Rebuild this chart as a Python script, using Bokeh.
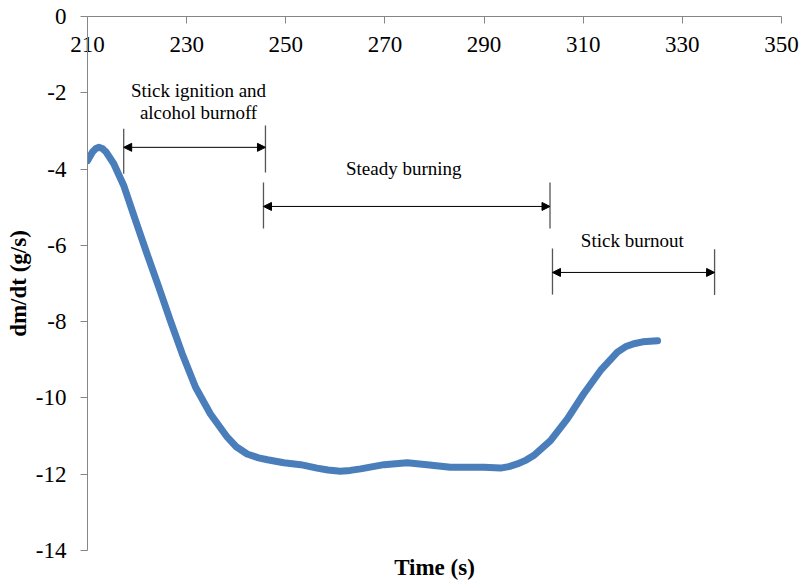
from bokeh.plotting import figure
from bokeh.models import (Range1d, LinearAxis, FixedTicker, Arrow, NormalHead,
                          ColumnDataSource)
from bokeh.core.properties import value
from bokeh.embed import file_html
from bokeh.resources import INLINE

# ---- data ----
time_s = [210.0, 211.0, 211.7, 212.3, 213.0, 213.8, 215.3, 217.3, 219.7, 222.0,
          224.4, 226.7, 229.1, 231.8, 234.8, 238.2, 240.0, 242.2, 244.5, 246.3,
          249.6, 253.0, 256.3, 258.5, 261.0, 263.0, 265.1, 269.8, 274.5, 278.5,
          283.2, 290.0, 293.3, 295.0, 296.7, 298.5, 300.0, 303.4, 306.8, 310.1,
          313.5, 316.9, 318.5, 320.2, 322.0, 325.0]
dmdt = [-3.78, -3.55, -3.46, -3.43, -3.46, -3.56, -3.86, -4.43, -5.35, -6.22,
        -7.10, -7.97, -8.84, -9.72, -10.42, -11.03, -11.28, -11.47, -11.57, -11.62,
        -11.70, -11.75, -11.84, -11.89, -11.92, -11.90, -11.86, -11.75, -11.70, -11.75,
        -11.82, -11.82, -11.84, -11.80, -11.73, -11.63, -11.51, -11.12, -10.55, -9.89,
        -9.28, -8.80, -8.66, -8.58, -8.53, -8.50]

x_ticks = [210, 230, 250, 270, 290, 310, 330, 350]
y_ticks = [0, -2, -4, -6, -8, -10, -12, -14]

phase_text = ["Stick ignition and", "alcohol burnoff", "Steady burning", "Stick burnout"]
phase_text_x = [232.4, 232.4, 273.8, 319.9]
phase_text_y = [-1.94, -2.52, -3.99, -5.87]

phase_start = [217.3, 245.5, 303.8]
phase_end = [245.9, 303.3, 336.5]
phase_arrow_y = [-3.43, -4.98, -6.71]
bar_x = [217.3, 245.9, 245.5, 303.3, 303.8, 336.5]
bar_top = [-2.94, -2.86, -4.35, -4.35, -6.08, -6.10]
bar_bottom = [-4.12, -4.09, -5.56, -5.56, -7.29, -7.30]

FONT = "Liberation Serif"
AXIS_GRAY = "#868686"

p = figure(width=803, height=582, output_backend="svg", toolbar_location=None,
           x_range=Range1d(210, 350), y_range=Range1d(-14, 0),
           x_axis_location="above",
           min_border_left=87, min_border_right=22, min_border_top=16, min_border_bottom=32)
p.outline_line_color = None
p.xgrid.visible = False
p.ygrid.visible = False
p.background_fill_color = "white"

# x axis along y = 0 (top edge), ticks pointing down, labels below the line
xa = p.xaxis[0]
xa.ticker = FixedTicker(ticks=x_ticks)
xa.major_label_overrides = {t: str(t) for t in x_ticks}
xa.axis_line_color = AXIS_GRAY
xa.major_tick_line_color = AXIS_GRAY
xa.major_tick_out = 0
xa.major_tick_in = 7
xa.minor_tick_line_color = None
xa.major_label_text_font = FONT
xa.major_label_text_font_size = "23px"
xa.major_label_text_color = "black"
xa.major_label_standoff = -35

# x axis title at the bottom
xt = LinearAxis(axis_label="Time (s)", ticker=FixedTicker(ticks=[]),
                axis_line_color=None, major_tick_line_color=None,
                minor_tick_line_color=None,
                major_label_standoff=0, axis_label_standoff=4,
                axis_label_text_font=FONT, axis_label_text_font_size="23px",
                axis_label_text_font_style="bold", axis_label_text_color="black")
p.add_layout(xt, "below")

ya = p.yaxis[0]
ya.ticker = FixedTicker(ticks=y_ticks)
ya.major_label_overrides = {t: str(t) for t in y_ticks}
ya.axis_line_color = AXIS_GRAY
ya.major_tick_line_color = AXIS_GRAY
ya.major_tick_out = 7
ya.major_tick_in = 0
ya.minor_tick_line_color = None
ya.major_label_text_font = FONT
ya.major_label_text_font_size = "23px"
ya.major_label_text_color = "black"
ya.major_label_standoff = 14
ya.axis_label = "dm/dt (g/s)"
ya.axis_label_text_font = FONT
ya.axis_label_text_font_size = "23px"
ya.axis_label_text_font_style = "bold"
ya.axis_label_text_color = "black"
ya.axis_label_standoff = 2

# curve
p.line(time_s, dmdt, line_width=7, line_color="#4A7EBB", line_join="round", line_cap="round")

# phase bars
p.segment(x0=bar_x, y0=bar_top, x1=bar_x, y1=bar_bottom, line_color="#555555", line_width=1.3)

# arrows
asrc = ColumnDataSource(dict(x0=phase_start, x1=phase_end, y=phase_arrow_y))
p.add_layout(Arrow(source=asrc, x_start="x0", y_start="y", x_end="x1", y_end="y",
                   line_color="black", line_width=1,
                   start=NormalHead(size=8, fill_color="black", line_color="black"),
                   end=NormalHead(size=8, fill_color="black", line_color="black")))

# phase labels
p.text(x=phase_text_x, y=phase_text_y, text=phase_text, text_font=value(FONT),
       text_font_size="19px", text_color="black", text_align="center",
       text_baseline="middle")

open("out.html", "w").write(file_html(p, INLINE))
